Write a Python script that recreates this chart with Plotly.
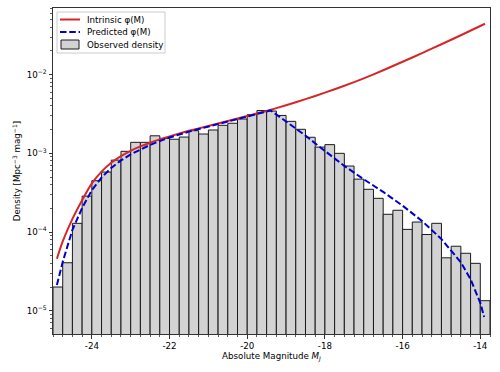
import plotly.graph_objects as go

# ---- data ----
bin_left_edges = [-25.0 + 0.25 * i for i in range(45)]
bin_width = 0.25
observed_density = [
    2.0e-5, 4.07e-5, 1.29e-4, 2.86e-4, 4.49e-4, 5.78e-4, 8.2e-4, 1.06e-3,
    1.38e-3, 1.38e-3, 1.67e-3, 1.55e-3, 1.51e-3, 1.61e-3, 1.94e-3, 1.76e-3,
    1.98e-3, 2.27e-3, 2.41e-3, 2.73e-3, 3.1e-3, 3.5e-3, 3.45e-3, 3.03e-3,
    2.55e-3, 2.02e-3, 1.6e-3, 1.2e-3, 1.29e-3, 1.0e-3, 6.9e-4, 4.7e-4,
    3.49e-4, 2.68e-4, 1.68e-4, 1.89e-4, 1.08e-4, 1.34e-4, 9.3e-5, 1.29e-4,
    4.7e-5, 6.6e-5, 5.37e-5, 4.0e-5, 1.34e-5,
]

intrinsic_M = [-24.9, -24.75, -24.5, -24.25, -24.0, -23.75, -23.5, -23.25, -23.0,
               -22.75, -22.5, -22.25, -22.0, -21.5, -21.0, -20.5, -20.0, -19.5,
               -19.0, -18.5, -18.0, -17.5, -17.0, -16.5, -16.0, -15.5, -15.0,
               -14.5, -14.0, -13.88]
intrinsic_log_phi = [-4.339, -4.12, -3.8325, -3.595, -3.3825, -3.2325, -3.12, -3.035, -2.9675,
                     -2.9125, -2.865, -2.8225, -2.784, -2.714, -2.6515, -2.589, -2.5265, -2.4615,
                     -2.389, -2.3115, -2.229, -2.1415, -2.0465, -1.944, -1.8365, -1.7265, -1.614,
                     -1.499, -1.3815, -1.353]

predicted_M = [-24.9, -24.75, -24.5, -24.25, -24.0, -23.75, -23.5, -23.25, -23.0,
               -22.75, -22.5, -22.25, -22.0, -21.5, -21.0, -20.5, -20.0, -19.5,
               -19.4, -19.0, -18.5, -18.0, -17.5, -17.0, -16.5, -16.0, -15.5,
               -15.0, -14.5, -14.25, -14.0, -13.9]
predicted_log_phi = [-4.673, -4.38, -3.9725, -3.695, -3.4675, -3.3075, -3.185, -3.09, -3.0125,
                     -2.9495, -2.893, -2.8425, -2.799, -2.724, -2.6595, -2.596, -2.5325, -2.4665,
                     -2.455, -2.595, -2.775, -2.97, -3.16, -3.33, -3.49, -3.665, -3.86,
                     -4.09, -4.385, -4.60, -4.90, -5.08]

x_tick_vals = [-24, -22, -20, -18, -16, -14]
x_tick_text = ["-24", "-22", "-20", "-18", "-16", "-14"]
y_tick_vals = [1e-5, 1e-4, 1e-3, 1e-2]
y_tick_text = ["10<sup>\u22125</sup>", "10<sup>\u22124</sup>", "10<sup>\u22123</sup>", "10<sup>\u22122</sup>"]

legend_labels = ["Intrinsic \u03c6(M)", "Predicted \u03c6(M)", "Observed density"]

# ---- figure ----
FONT = "DejaVu Sans"
FS = 8.7
RED = "#d62728"
BLUE = "#0000cd"
W, H = 500, 372
ML, MR, MT, MB = 53, 10, 8, 38
PW, PH = W - ML - MR, H - MT - MB


def px_x(p):
    return (p - ML) / PW


def px_y(p):
    return (H - MB - p) / PH


bin_centers = [e + bin_width / 2 for e in bin_left_edges]
intrinsic_phi = [10 ** v for v in intrinsic_log_phi]
predicted_phi = [10 ** v for v in predicted_log_phi]

fig = go.Figure()
fig.add_trace(go.Bar(
    x=bin_centers, y=observed_density, width=bin_width,
    marker=dict(color="#d3d3d3", line=dict(color="#1a1a1a", width=1)),
    name=legend_labels[2], showlegend=False,
))
fig.add_trace(go.Scatter(
    x=intrinsic_M, y=intrinsic_phi, mode="lines",
    line=dict(color=RED, width=2, shape="spline", smoothing=0.6),
    name=legend_labels[0], showlegend=False,
))
fig.add_trace(go.Scatter(
    x=predicted_M, y=predicted_phi, mode="lines",
    line=dict(color=BLUE, width=2, dash="6.5px,2.8px"),
    name=legend_labels[1], showlegend=False,
))

# legend drawn as paper-space decoration (matplotlib-style compact box)
shapes = [
    dict(type="rect", xref="paper", yref="paper",
         x0=px_x(57), x1=px_x(165), y0=px_y(53), y1=px_y(12),
         line=dict(color="#cccccc", width=1), fillcolor="rgba(255,255,255,0.8)", layer="above"),
    dict(type="line", xref="paper", yref="paper",
         x0=px_x(60), x1=px_x(80), y0=px_y(19.5), y1=px_y(19.5),
         line=dict(color=RED, width=2), layer="above"),
    dict(type="line", xref="paper", yref="paper",
         x0=px_x(60), x1=px_x(80), y0=px_y(32), y1=px_y(32),
         line=dict(color=BLUE, width=2, dash="6.5px,2.8px"), layer="above"),
    dict(type="rect", xref="paper", yref="paper",
         x0=px_x(61), x1=px_x(79), y0=px_y(49), y1=px_y(40),
         line=dict(color="#1a1a1a", width=1), fillcolor="#d3d3d3", layer="above"),
]
annotations = [
    dict(xref="paper", yref="paper", x=px_x(85), y=px_y(yy), text=t,
         showarrow=False, xanchor="left", yanchor="middle",
         font=dict(family=FONT, size=FS, color="black"))
    for t, yy in zip(legend_labels, [19.5, 32, 44.5])
]

minor_y = [m * 10 ** k for k in range(-6, -1) for m in range(2, 10)]

fig.update_layout(
    width=W, height=H,
    margin=dict(l=ML, r=MR, t=MT, b=MB),
    paper_bgcolor="white", plot_bgcolor="white",
    font=dict(family=FONT, size=FS, color="black"),
    bargap=0,
    showlegend=False,
    hovermode=False,
    shapes=shapes,
    annotations=annotations,
)
fig.update_xaxes(
    range=[-25.0, -13.75], showgrid=False, zeroline=False, automargin=False,
    showline=True, mirror=True, linecolor="#333333", linewidth=1,
    tickmode="array", tickvals=x_tick_vals, ticktext=x_tick_text,
    ticks="outside", ticklen=3.5, tickwidth=1, tickcolor="#333333",
    minor=dict(ticks="outside", ticklen=2, tickwidth=0.8, tickcolor="#333333",
               dtick=0.25, tick0=-25, showgrid=False),
    title=dict(text="Absolute Magnitude <i>M<sub>J</sub></i>", font=dict(size=FS), standoff=2),
)
fig.update_yaxes(
    type="log", range=[-5.296, -1.153], showgrid=False, zeroline=False, automargin=False,
    showline=True, mirror=True, linecolor="#333333", linewidth=1,
    tickmode="array", tickvals=y_tick_vals, ticktext=y_tick_text,
    ticks="outside", ticklen=3.5, tickwidth=1, tickcolor="#333333",
    minor=dict(ticks="outside", ticklen=2, tickwidth=0.8, tickcolor="#333333",
               tickmode="array", tickvals=minor_y, showgrid=False),
    title=dict(text="Density [Mpc<sup>\u22123</sup> mag<sup>\u22121</sup>]", font=dict(size=FS), standoff=4),
)

fig.write_html("out.html", config={"displayModeBar": False, "staticPlot": True},
               post_script="document.body.style.margin='0';")
